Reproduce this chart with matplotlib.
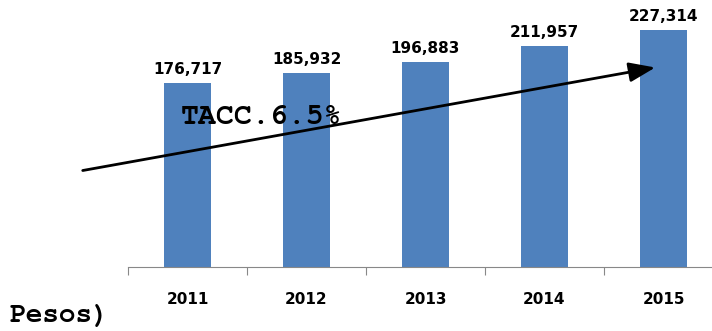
import matplotlib.pyplot as plt
from matplotlib import font_manager

years = ['2011', '2012', '2013', '2014', '2015']
values = [176717, 185932, 196883, 211957, 227314]

# courier-like bold monospace for the annotations
mono_files = [f for f in font_manager.findSystemFonts() if f.endswith('FreeMonoBold.ttf')]
if mono_files:
    mono = font_manager.FontProperties(fname=mono_files[0])
else:
    mono = font_manager.FontProperties(family='Liberation Mono', weight='bold')

W, H = 712, 331
fig = plt.figure(figsize=(W / 100, H / 100), dpi=100)
ax = fig.add_axes([128 / W, (H - 267) / H, 595 / W, 260.6 / H])

x = range(len(years))
ax.bar(x, values, width=0.4, color='#4F81BD')
ax.set_xlim(-0.5, 4.5)
ax.set_ylim(0, 250000)

for i, v in zip(x, values):
    ax.text(i, v + 6000, f'{v:,}', ha='center', va='bottom',
            fontsize=11, fontweight='bold', family='DejaVu Sans')

ax.set_xticks([i - 0.5 for i in range(6)])
ax.set_xticklabels([])
ax.set_xticks(list(x), minor=True)
ax.set_xticklabels(years, minor=True, fontsize=11, fontweight='bold')
ax.tick_params(axis='x', which='major', length=6, color='#888888', direction='out')
ax.tick_params(axis='x', which='minor', length=0, pad=18)
ax.set_yticks([])
for s in ['left', 'right', 'top']:
    ax.spines[s].set_visible(False)
ax.spines['bottom'].set_color('#888888')

# growth arrow
ax.annotate('', xy=(658 / W, 1 - 67 / H), xytext=(80 / W, 1 - 171 / H),
            xycoords='figure fraction', textcoords='figure fraction',
            arrowprops=dict(arrowstyle='-|>,head_length=1.6,head_width=0.6',
                            color='black', lw=2))
fig.text(181 / W, 1 - 117 / H, 'TACC.6.5%', fontproperties=mono, fontsize=21.5,
         va='center', ha='left')
fig.text(10 / W, 1 - 316 / H, 'Pesos)', fontproperties=mono, fontsize=20,
         va='center', ha='left')

fig.savefig('out.png', dpi=100)
